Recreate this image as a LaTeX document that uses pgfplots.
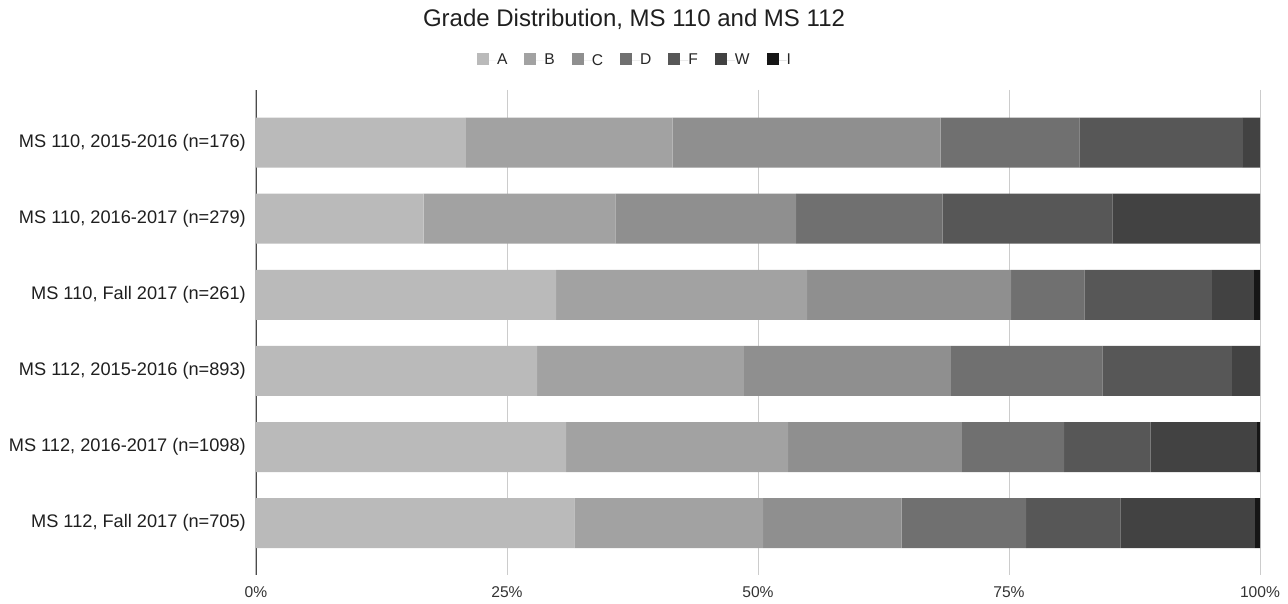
\documentclass[border=0pt]{standalone}
\usepackage{pgfplots}
\usepackage{pgfplotstable}
\usepackage{fontspec}
\setmainfont{Liberation Sans}
\pgfplotsset{compat=1.18}

\definecolor{cA}{HTML}{BABABA}
\definecolor{cB}{HTML}{A2A2A2}
\definecolor{cC}{HTML}{8F8F8F}
\definecolor{cD}{HTML}{707070}
\definecolor{cF}{HTML}{575757}
\definecolor{cW}{HTML}{424242}
\definecolor{cI}{HTML}{161616}

\pgfplotstableread{
row A B C D F W I
1 20.9 20.6 26.7 13.8 16.3 1.7 0
2 16.7 19.1 18.0 14.6 16.9 14.7 0
3 29.9 25.0 20.3 7.3 12.7 4.2 0.6
4 28.0 20.6 20.6 15.1 12.9 2.8 0
5 30.9 22.1 17.3 10.2 8.6 10.6 0.3
6 31.7 18.8 13.8 12.4 9.4 13.4 0.5
}\grades

\begin{document}
\begin{tikzpicture}
\path[use as bounding box] (0pt,0pt) rectangle (1288pt,604pt);
\begin{axis}[
  at={(256pt,29pt)}, anchor=south west,
  scale only axis, width=1004pt, height=485pt,
  xbar stacked, bar width=50pt,
  xmin=0, xmax=100, ymin=0.31, ymax=6.68, y dir=reverse,
  axis line style={draw=none},
  major tick length=0pt,
  xtick={0,25,50,75,100},
  xticklabels={0\%,25\%,50\%,75\%,100\%},
  ytick={1,2,3,4,5,6},
  yticklabels={{MS 110, 2015-2016 (n=176)},{MS 110, 2016-2017 (n=279)},{MS 110, Fall 2017 (n=261)},{MS 112, 2015-2016 (n=893)},{MS 112, 2016-2017 (n=1098)},{MS 112, Fall 2017 (n=705)}},
  xmajorgrids, major grid style={draw=black!20, line width=1pt},
  xticklabel style={font=\fontsize{15.6}{18}\selectfont, text=black!80, anchor=base, yshift=-22pt},
  yticklabel style={font=\fontsize{18.2}{22}\selectfont, text=black!88, anchor=east, inner sep=0pt, xshift=-10pt},
  legend columns=-1,
  legend style={at={(0.3765,1.0619)}, anchor=center, draw=none, fill=none, inner sep=0pt,
    font=\fontsize{15.6}{18}\selectfont, text=black!85,
    nodes={inner sep=0pt},
    /tikz/every even column/.append style={column sep=17pt}},
  legend image code/.code={\fill[#1] (0pt,-5pt) rectangle (12pt,7pt); \path (0pt,0pt) -- (20pt,0pt);},
]
\addplot[fill=cA, draw=none] table[x=A, y=row] {\grades};
\addplot[fill=cB, draw=none] table[x=B, y=row] {\grades};
\addplot[fill=cC, draw=none] table[x=C, y=row] {\grades};
\addplot[fill=cD, draw=none] table[x=D, y=row] {\grades};
\addplot[fill=cF, draw=none] table[x=F, y=row] {\grades};
\addplot[fill=cW, draw=none] table[x=W, y=row] {\grades};
\addplot[fill=cI, draw=none] table[x=I, y=row] {\grades};
\legend{A,B,C,D,F,W,I}
\draw[black!70, line width=2pt] (rel axis cs:0,0) -- (rel axis cs:0,1);
\end{axis}
\node[font=\fontsize{24}{29}\selectfont, text=black!88, anchor=base] at (634pt,577pt) {Grade Distribution, MS 110 and MS 112};
\end{tikzpicture}
\end{document}
